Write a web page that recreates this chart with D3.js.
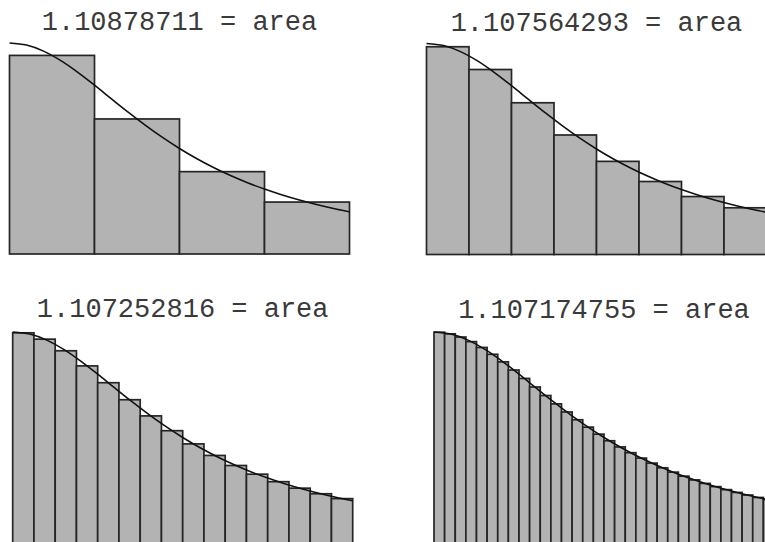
<!DOCTYPE html>
<html>
<head>
<meta charset="utf-8">
<script src="https://cdn.jsdelivr.net/npm/d3@7"></script>
<style>
  body { margin: 0; background: #fff; }
  svg { display: block; }
</style>
</head>
<body>
<script>
(function (d3) {
  'use strict';

  // area labels, one per panel (midpoint sums of 1/(1+x^2) on [0,2])
  const titles = [
    '1.10878711 = area',
    '1.107564293 = area',
    '1.107252816 = area',
    '1.107174755 = area',
  ];

  // bar heights
  const bars4 = [0.941176, 0.64, 0.390244, 0.246154];
  const bars8 = [0.984615, 0.876712, 0.719101, 0.566372,
    0.441379, 0.345946, 0.274678, 0.221453];
  const bars16 = [0.996109, 0.966038, 0.911032, 0.839344,
    0.759644, 0.679045, 0.602353, 0.532225,
    0.469725, 0.414911, 0.367288, 0.326115,
    0.290579, 0.259898, 0.233364, 0.210355];
  const bars32 = [0.999024, 0.991288, 0.976168, 0.954334,
    0.926697, 0.894324, 0.858340, 0.819855,
    0.779893, 0.739350, 0.698977, 0.659369,
    0.620983, 0.584142, 0.549062, 0.515869,
    0.484619, 0.455313, 0.427915, 0.402357,
    0.378558, 0.356422, 0.335847, 0.316734,
    0.298978, 0.282483, 0.267154, 0.252902,
    0.239644, 0.227303, 0.215806, 0.205087];

  // the curve, sampled every 0.1 from 0 to 2
  const curveX = [0, 0.1, 0.2, 0.3, 0.4, 0.5, 0.6, 0.7, 0.8, 0.9, 1,
    1.1, 1.2, 1.3, 1.4, 1.5, 1.6, 1.7, 1.8, 1.9, 2];
  const curveY = [1, 0.990099, 0.961538, 0.917431, 0.862069, 0.8,
    0.735294, 0.671141, 0.609756, 0.552486, 0.5,
    0.452489, 0.409836, 0.371747, 0.337838, 0.307692,
    0.280899, 0.257069, 0.235849, 0.21692, 0.2];

  const panels = [
    { bars: bars4, left: 9.5, bottom: 254, titleY: 30 },
    { bars: bars8, left: 426.5, bottom: 254.5, titleY: 31 },
    { bars: bars16, left: 12.7, bottom: 543, titleY: 317 },
    { bars: bars32, left: 434, bottom: 543, titleY: 318 },
  ];

  const width = 765;
  const height = 542;
  const plotW = 340;
  const plotH = 211;

  const svg = d3.select('body')
    .append('svg')
    .attr('width', width)
    .attr('height', height);

  const curvePts = curveX.map((x, i) => ({ x, y: curveY[i] }));

  panels.forEach((p, i) => {
    const x = d3.scaleLinear()
      .domain([0, 2])
      .range([p.left, p.left + plotW]);

    const y = d3.scaleLinear()
      .domain([0, 1])
      .range([p.bottom, p.bottom - plotH]);

    const step = 2 / p.bars.length;
    const g = svg.append('g');

    g.selectAll('rect')
      .data(p.bars)
      .join('rect')
      .attr('x', (d, j) => x(j * step))
      .attr('y', (d) => y(d))
      .attr('width', x(step) - x(0))
      .attr('height', (d) => y(0) - y(d))
      .attr('fill', '#b3b3b3')
      .attr('stroke', '#262626')
      .attr('stroke-width', 1.7);

    const line = d3.line()
      .x((d) => x(d.x))
      .y((d) => y(d.y))
      .curve(d3.curveCatmullRom);

    g.append('path')
      .attr('d', line(curvePts))
      .attr('fill', 'none')
      .attr('stroke', '#111')
      .attr('stroke-width', 1.6);

    g.append('text')
      .attr('x', p.left + plotW / 2)
      .attr('y', p.titleY)
      .attr('text-anchor', 'middle')
      .attr('font-family', '"Liberation Mono", "Courier New", monospace')
      .attr('font-size', 27)
      .attr('fill', '#3a3a3a')
      .text(titles[i]);
  });

})(d3);
</script>
</body>
</html>
